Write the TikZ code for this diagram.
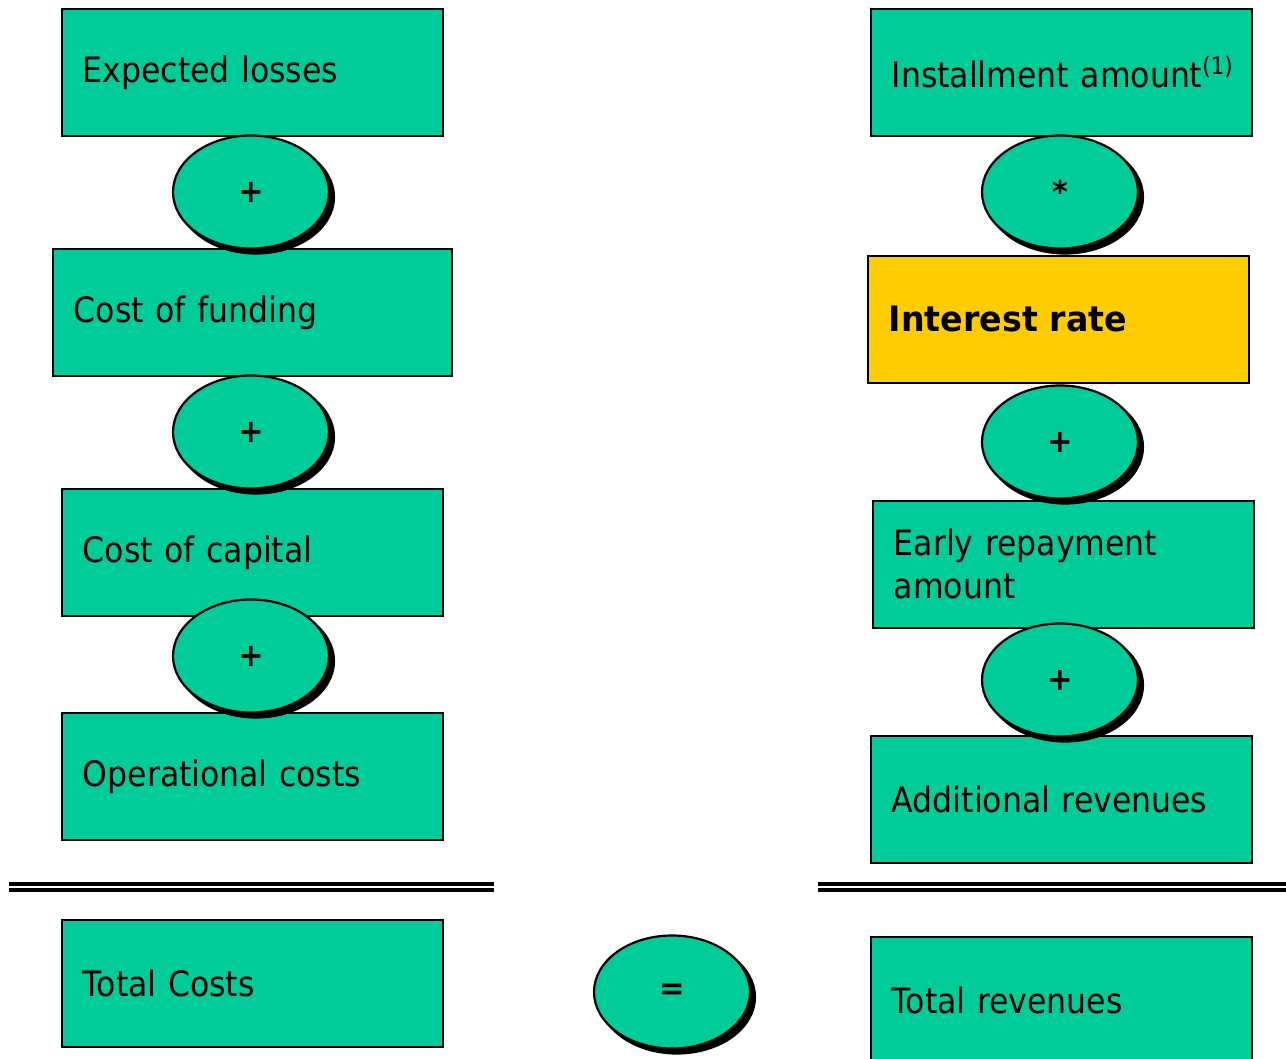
\documentclass[tikz,border=0pt]{standalone}
\usepackage{fontspec}
\setmainfont{DejaVu Sans}[FakeStretch=0.9, BoldFeatures={FakeStretch=0.95}]
\usetikzlibrary{shapes.geometric,shadows}
\definecolor{boxgreen}{RGB}{0,204,153}
\definecolor{boxyellow}{RGB}{255,204,0}
\tikzset{
  valbox/.style={draw=black, line width=1.8pt, fill=boxgreen, rectangle,
    minimum width=381pt, minimum height=127pt, text width=339pt,
    inner xsep=21pt, inner ysep=0pt, align=left,
    font=\fontsize{35}{43}\selectfont, anchor=north west},
  opnode/.style={ellipse, draw=black, line width=2.2pt, fill=boxgreen,
    minimum width=156pt, minimum height=113pt, inner sep=0pt,
    font=\fontsize{32}{32}\selectfont\bfseries,
    general shadow={fill=black, draw=black, line width=2.2pt, shadow xshift=5pt, shadow yshift=-5pt}},
  dline/.style={line width=3.2pt, black}
}
\begin{document}
\begin{tikzpicture}[x=1pt,y=-1pt]
\useasboundingbox (0,0) rectangle (1286,1059);
% left column
\node[valbox] (el) at (61,8) {Expected losses};
\node[valbox, minimum width=399pt, text width=357pt] (cf) at (52,248) {Cost of funding};
\node[valbox] (cc) at (61,488) {Cost of capital};
\node[valbox] (oc) at (61,712) {Operational costs};
\node[valbox] (tc) at (61,919) {Total Costs};
% right column
\node[valbox] (ia) at (870,8) {\rlap{Installment amount\raisebox{0.36em}{\fontsize{24}{24}\selectfont(1)}}};
\node[valbox, fill=boxyellow, font=\fontsize{35}{43}\selectfont\bfseries] (ir) at (867,255) {Interest rate};
\node[valbox] (er) at (872,500) {Early repayment\\amount};
\node[valbox] (ar) at (870,735) {Additional revenues};
\node[valbox] (tr) at (870,936) {Total revenues};
% operators
\node[opnode] (p1) at (251,192) {+};
\node[opnode] (p2) at (251,432) {+};
\node[opnode] (p3) at (251,656) {+};
\node[opnode] (m1) at (1060,192) {*};
\node[opnode] (p4) at (1060,442) {+};
\node[opnode] (p5) at (1060,680) {+};
\node[opnode] (eq) at (672,992) {=};
% double rules
\coordinate (l1a) at (9,884);  \coordinate (l1b) at (494,884);
\coordinate (l2a) at (9,890);  \coordinate (l2b) at (494,890);
\coordinate (r1a) at (818,884); \coordinate (r1b) at (1286,884);
\coordinate (r2a) at (818,890); \coordinate (r2b) at (1286,890);
\draw[dline] (l1a) -- (l1b);
\draw[dline] (l2a) -- (l2b);
\draw[dline] (r1a) -- (r1b);
\draw[dline] (r2a) -- (r2b);
\end{tikzpicture}
\end{document}
